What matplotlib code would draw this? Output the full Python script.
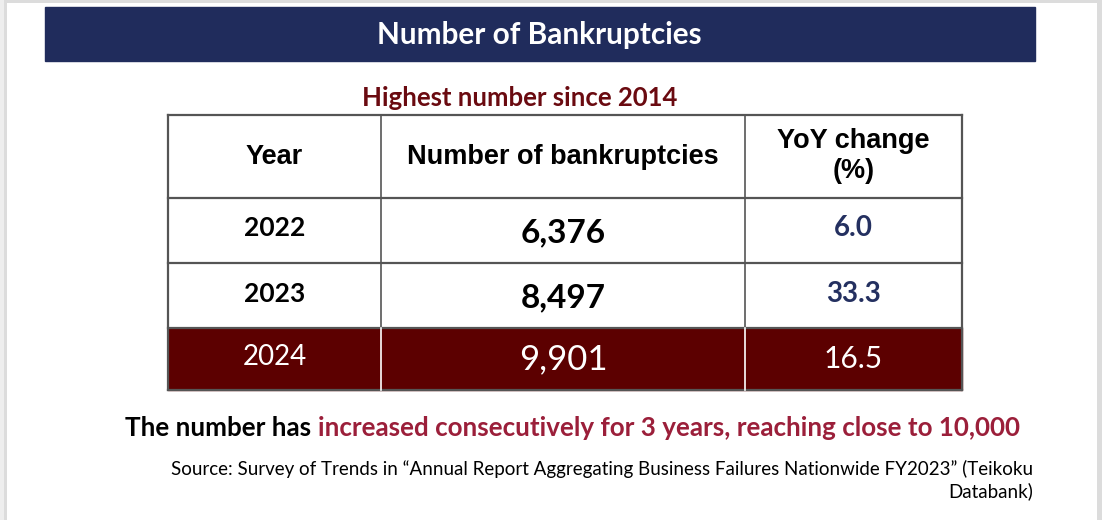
import matplotlib.pyplot as plt
from matplotlib.patches import Rectangle

# table data
years = ["2022", "2023", "2024"]
counts = [6376, 8497, 9901]
yoy = [6.0, 33.3, 16.5]
headers = ["Year", "Number of bankruptcies", "YoY change\n(%)"]

title = "Number of Bankruptcies"
subtitle = "Highest number since 2014"
note_black = "The number has "
note_red = "increased consecutively for 3 years, reaching close to 10,000"
source = "Source: Survey of Trends in \u201cAnnual Report Aggregating Business Failures Nationwide FY2023\u201d (Teikoku\nDatabank)"

navy = "#202c5c"
maroon = "#5c0000"
sub_red = "#6a0a10"
note_col = "#9b1f3a"
yoy_blue = "#243060"
grid_col = "#555555"

body_font = "Lato"
head_font = "Liberation Sans"

fig = plt.figure(figsize=(11.02, 5.2), dpi=100)
ax = fig.add_axes([0, 0, 1, 1])
ax.set_xlim(0, 1102)
ax.set_ylim(520, 0)
ax.axis("off")

# page edge (grey slide border on top, left and right)
ax.add_patch(Rectangle((0, 0), 1102, 3, color="#dcdcdc", lw=0))
ax.add_patch(Rectangle((1097, 0), 5, 520, color="#dcdcdc", lw=0))
ax.add_patch(Rectangle((0, 0), 4, 520, color="#eeeeee", lw=0))
ax.add_patch(Rectangle((4, 0), 3, 520, color="#dcdcdc", lw=0))

# title banner
ax.add_patch(Rectangle((45, 7), 990, 54, color=navy))
ax.text(539, 35, title, color="white", fontsize=21.4, fontweight="bold",
        family=body_font, ha="center", va="center")
ax.text(520, 98, subtitle, color=sub_red, fontsize=18.5, fontweight="bold",
        family=body_font, ha="center", va="center")

# table grid
col_x = [168, 381, 745, 962]
row_y = [115, 198, 263, 328, 390]
left, right = col_x[0], col_x[-1]

# last row highlighted
ax.add_patch(Rectangle((left, row_y[3]), right - left, row_y[4] - row_y[3],
                       color=maroon, zorder=1))

for y in row_y:
    ax.plot([left, right], [y, y], color=grid_col, lw=1.6, zorder=2)
ax.plot([left, left], [row_y[0], row_y[4]], color=grid_col, lw=1.6, zorder=2)
ax.plot([right, right], [row_y[0], row_y[4]], color=grid_col, lw=1.6, zorder=2)
for x in col_x[1:3]:
    ax.plot([x, x], [row_y[0], row_y[3]], color=grid_col, lw=1.2, zorder=2)
    ax.plot([x, x], [row_y[3], row_y[4]], color="white", lw=1.2, zorder=2)

centers = [(col_x[i] + col_x[i + 1]) / 2 for i in range(3)]
for cx, h in zip(centers, headers):
    ax.text(cx, (row_y[0] + row_y[1]) / 2, h, fontsize=19.5, fontweight="bold",
            family=head_font, ha="center", va="center", linespacing=1.2)

for i, (yr, c, p) in enumerate(zip(years, counts, yoy)):
    cy = (row_y[i + 1] + row_y[i + 2]) / 2
    if i == len(years) - 1:
        ax.text(centers[0], cy - 2, yr, fontsize=20, family=body_font,
                color="white", ha="center", va="center")
        ax.text(centers[1], cy, f"{c:,}", fontsize=25, family=body_font,
                color="white", ha="center", va="center")
        ax.text(centers[2], cy, f"{p:.1f}", fontsize=21.5, family=body_font,
                color="white", ha="center", va="center")
    else:
        ax.text(centers[0], cy - 2, yr, fontsize=19, fontweight="bold",
                family=body_font, color="black", ha="center", va="center")
        ax.text(centers[1], cy + 2, f"{c:,}", fontsize=24, fontweight="bold",
                family=body_font, color="black", ha="center", va="center")
        ax.text(centers[2], cy - 2, f"{p:.1f}", fontsize=20, fontweight="bold",
                family=body_font, color=yoy_blue, ha="center", va="center")

# bottom note, two colours
t1 = ax.text(125, 428, note_black, fontsize=18.7, fontweight="bold", family=body_font,
             color="black", ha="left", va="center")
ax.annotate(note_red, xy=(1, 0.5), xycoords=t1, va="center", ha="left",
            fontsize=18.7, fontweight="bold", family=body_font, color=note_col)

ax.text(1033, 480, source, fontsize=13.5, family=body_font, color="black",
        ha="right", va="center", multialignment="right", linespacing=1.25)

fig.savefig("out.png", dpi=100)
